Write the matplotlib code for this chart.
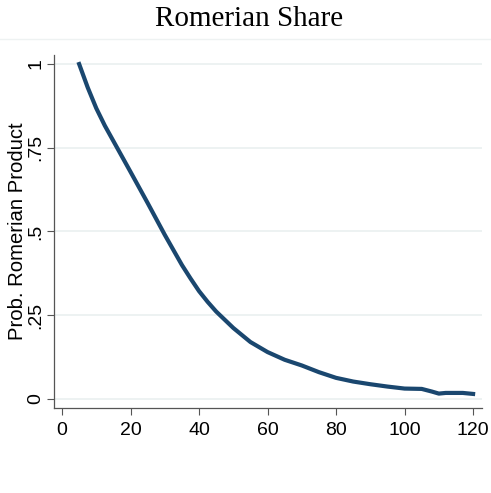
import matplotlib
matplotlib.use("Agg")
import matplotlib.pyplot as plt
from matplotlib.lines import Line2D

# data
age = [5, 7.5, 10, 12.5, 15, 20, 25, 30, 35, 37.5, 40, 42.5, 45, 50, 55, 60,
       65, 70, 75, 80, 85, 90, 95, 100, 105, 108, 110, 112, 117, 120]
share = [1.0, 0.93, 0.868, 0.816, 0.77, 0.678, 0.585, 0.49, 0.40, 0.36,
         0.322, 0.29, 0.261, 0.212, 0.17, 0.14, 0.117, 0.10, 0.08, 0.063,
         0.052, 0.044, 0.037, 0.031, 0.030, 0.022, 0.016, 0.018, 0.018, 0.015]
xticks = [0, 20, 40, 60, 80, 100, 120]
yticks = [0, 0.25, 0.5, 0.75, 1]
ylabels = ["0", ".25", ".5", ".75", "1"]

plt.rcParams['font.family'] = ['Liberation Sans', 'DejaVu Sans']

fig = plt.figure(figsize=(4.91, 4.93), dpi=100)
ax = fig.add_axes([54/491, 1 - 408/493, (482-54)/491, (408-55)/493])

ax.plot(age, share, color="#1a476f", lw=3.0, solid_joinstyle="round")

ax.set_xlim(-2.34, 122.6)
ax.set_ylim(-0.027, 1.027)
ax.set_xticks(xticks)
ax.set_yticks(yticks)
ax.set_yticklabels(ylabels, rotation=90, va="center")
ax.tick_params(axis="both", labelsize=14, length=5, width=0.8,
               color="#555555", labelcolor="black")
ax.tick_params(axis="y", pad=2)
ax.tick_params(axis="x", pad=5)
ax.grid(axis="y", color="#eaf0f0", lw=1.2)
ax.set_axisbelow(True)
for s in ["top", "right"]:
    ax.spines[s].set_visible(False)
for s in ["left", "bottom"]:
    ax.spines[s].set_color("#555555")
    ax.spines[s].set_linewidth(0.9)

ax.set_ylabel("Prob. Romerian Product", fontsize=14.6, labelpad=0.5)

fig.text(249/491, 1 - 19/493, "Romerian Share", ha="center", va="center",
         fontsize=21, family="Liberation Serif")
fig.add_artist(Line2D([0, 1], [1 - 39/493, 1 - 39/493], color="#eef2f2",
                      lw=1, transform=fig.transFigure))

fig.savefig("out.png", dpi=100, facecolor="white")
